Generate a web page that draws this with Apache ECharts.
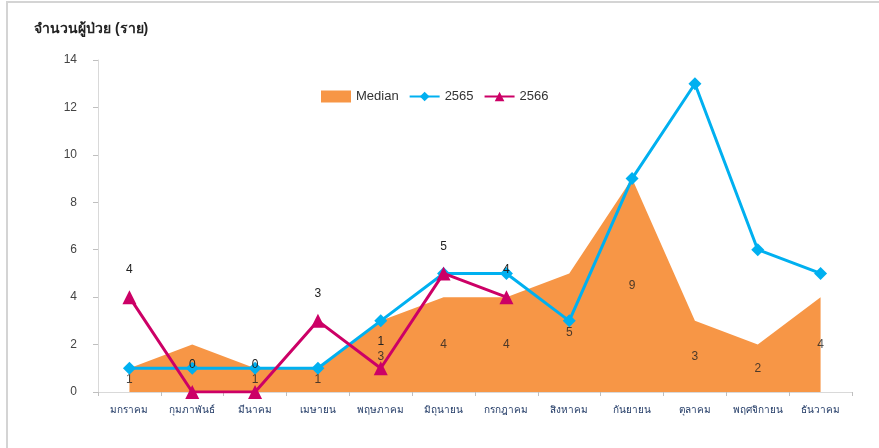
<!DOCTYPE html>
<html><head><meta charset="utf-8">
<script src="https://cdn.jsdelivr.net/npm/echarts@6/dist/echarts.min.js"></script>
<style>html,body{margin:0;padding:0;background:#fff}#c{width:879px;height:448px}</style>
</head><body><div id="c"></div>
<script>
var months = ['มกราคม','กุมภาพันธ์','มีนาคม','เมษายน','พฤษภาคม','มิถุนายน','กรกฎาคม','สิงหาคม','กันยายน','ตุลาคม','พฤศจิกายน','ธันวาคม'];
var median = [1, 2, 1, 1, 3, 4, 4, 5, 9, 3, 2, 4];
var y2565 = [1, 1, 1, 1, 3, 5, 5, 3, 9, 13, 6, 5];
var y2566 = [4, 0, 0, 3, 1, 5, 4];
var yTicks = [0, 2, 4, 6, 8, 10, 12, 14];
var titleText = 'จำนวนผู้ป่วย (ราย)';

var chart = echarts.init(document.getElementById('c'));
var font = 'Liberation Sans, Arial, Noto Sans, sans-serif';
chart.setOption({
  animation: false,
  backgroundColor: '#fff',
  textStyle: {fontFamily: font},
  title: {text: titleText, left: 29, top: 17, textStyle: {fontSize: 14, fontWeight: 'bold', color: '#222', fontFamily: font}},
  graphic: [{type: 'rect', shape: {x: 7, y: 2, width: 900, height: 500}, style: {fill: 'none', stroke: '#d4d4d4', lineWidth: 2}, silent: true}],
  legend: {
    left: 316, top: 85, itemGap: 10, itemWidth: 30, itemHeight: 12,
    textStyle: {fontSize: 13, color: '#333', fontFamily: font},
    data: [{name: 'Median', icon: 'rect'}, {name: '2565'}, {name: '2566'}]
  },
  grid: {left: 98, right: 27, top: 60, bottom: 56},
  xAxis: {
    type: 'category', data: months, boundaryGap: true,
    axisLine: {lineStyle: {color: '#d9d9d9', width: 1}},
    axisTick: {show: true, length: 4, lineStyle: {color: '#bfbfbf'}},
    axisLabel: {fontSize: 10, color: '#1f3864', margin: 13, interval: 0, fontFamily: font}
  },
  yAxis: {
    type: 'value', min: yTicks[0], max: yTicks[yTicks.length - 1], interval: 2,
    axisLine: {show: true, lineStyle: {color: '#d9d9d9'}},
    axisTick: {show: true, length: 5, lineStyle: {color: '#bfbfbf'}},
    splitLine: {show: false},
    axisLabel: {fontSize: 12, color: '#444', margin: 21, fontFamily: font}
  },
  series: [
    {
      name: 'Median', type: 'line', data: median, symbol: 'none',
      itemStyle: {color: '#F79646'},
      lineStyle: {width: 0, color: '#F79646'},
      areaStyle: {color: '#F79646', opacity: 1},
      z: 1
    },
    {
      name: 'MedianLabels', type: 'scatter', symbolSize: 0, silent: true,
      data: median.map(function (v, i) { return [i, v / 2]; }),
      label: {show: true, position: 'inside', fontSize: 12, color: '#222',
        formatter: function (p) { return median[p.dataIndex]; }},
      z: 2
    },
    {
      name: '2565', type: 'line', data: y2565, symbol: 'diamond', symbolSize: 13,
      itemStyle: {color: '#00B0F0'}, lineStyle: {color: '#00B0F0', width: 3},
      z: 3
    },
    {
      name: '2566', type: 'line', data: y2566, symbol: 'triangle', symbolSize: 14,
      itemStyle: {color: '#CC0066'}, lineStyle: {color: '#CC0066', width: 3},
      label: {show: true, position: 'top', distance: 14, fontSize: 12, color: '#222'},
      z: 4
    }
  ]
});
</script></body></html>
